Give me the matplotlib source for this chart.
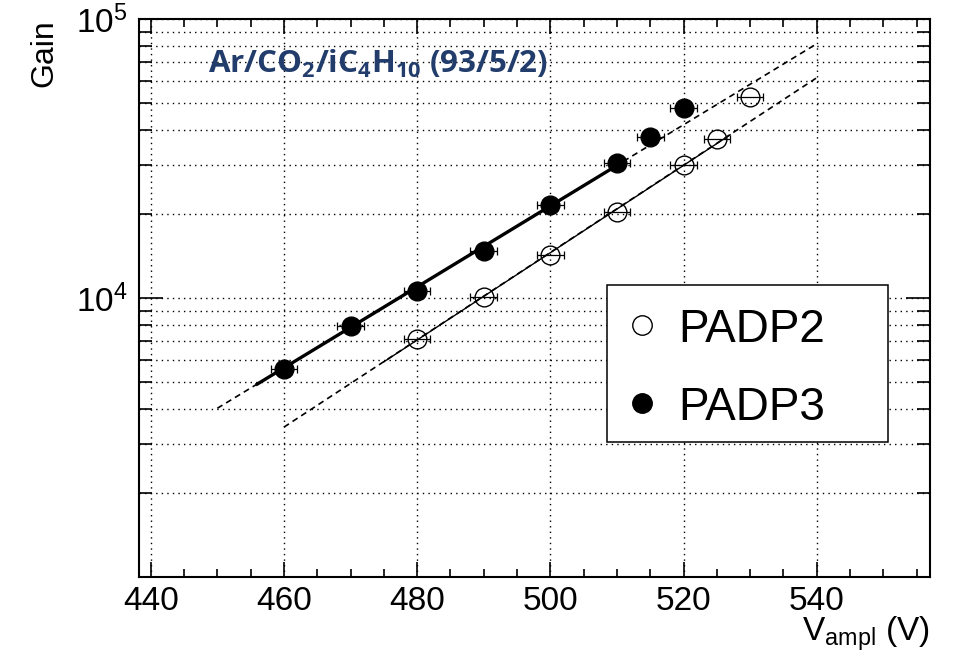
import numpy as np
import matplotlib
matplotlib.use("Agg")
import matplotlib.pyplot as plt
from matplotlib.patches import Rectangle
from matplotlib.ticker import FixedLocator, LogFormatterSciNotation, NullFormatter

plt.rcParams['font.family'] = ['Liberation Sans', 'DejaVu Sans']

# PADP2 (open markers)
v_padp2 = [480, 490, 500, 510, 520, 525, 530]
gain_padp2 = [7.1e3, 1.01e4, 1.43e4, 2.04e4, 3.01e4, 3.73e4, 5.26e4]
# PADP3 (filled markers)
v_padp3 = [460, 470, 480, 490, 500, 510, 515, 520]
gain_padp3 = [5.54e3, 7.96e3, 1.06e4, 1.48e4, 2.16e4, 3.05e4, 3.78e4, 4.81e4]
v_err = 2.0

fit2_full_v = [460, 540]
fit2_full_g = [3.44e3, 6.17e4]
fit2_range_v = [475, 527]
fit2_range_g = [5.90e3, 3.85e4]
fit3_full_v = [450, 540]
fit3_full_g = [4.02e3, 8.17e4]
fit3_range_v = [456, 510]
fit3_range_g = [4.91e3, 2.99e4]

fig = plt.figure(figsize=(9.56, 6.54), dpi=100)
ax = fig.add_axes([0.14508, 0.11820, 0.82772, 0.85229])

ax.set_yscale('log')
ax.set_xlim(438.2, 557.0)
ax.set_ylim(1e3, 1e5)

ax.plot(fit3_full_v, fit3_full_g, color='black', lw=1.2, ls=(0, (3.6, 2.6)), zorder=2)
ax.plot(fit2_full_v, fit2_full_g, color='black', lw=1.2, ls=(0, (3.6, 2.6)), zorder=2)
ax.plot(fit3_range_v, fit3_range_g, color='black', lw=2.4, zorder=3)
ax.plot(fit2_range_v, fit2_range_g, color='black', lw=1.0, zorder=3)

ax.errorbar(v_padp2, gain_padp2, xerr=v_err, fmt='none', ecolor='black',
            elinewidth=0.9, capsize=3, capthick=0.9, zorder=4)
ax.errorbar(v_padp3, gain_padp3, xerr=v_err, fmt='none', ecolor='black',
            elinewidth=0.9, capsize=3, capthick=0.9, zorder=4)
ax.plot(v_padp2, gain_padp2, 'o', ms=13.5, mfc='none', mec='black', mew=1.0, zorder=5)
ax.plot(v_padp3, gain_padp3, 'o', ms=13.5, mfc='black', mec='black', zorder=5)

# ticks
ax.set_xticks(np.arange(440, 541, 20))
ax.set_xticks(np.arange(440, 557, 5), minor=True)
ax.yaxis.set_major_locator(FixedLocator([1e3, 1e4, 1e5]))
ax.yaxis.set_minor_locator(FixedLocator([m * 10**e for e in (3, 4) for m in range(2, 10)]))
ax.yaxis.set_major_formatter(LogFormatterSciNotation())
ax.yaxis.set_minor_formatter(NullFormatter())
ax.tick_params(which='both', direction='in', top=True, right=True, labelsize=24, width=1.2)
ax.tick_params(axis='x', which='major', length=11, pad=7)
ax.tick_params(axis='x', which='minor', length=6)
ax.tick_params(axis='y', which='major', length=17, pad=8)
ax.tick_params(axis='y', which='minor', length=9.5)
for lab in ax.get_yticklabels():
    if lab.get_position()[1] == 1e3:
        lab.set_visible(False)

for s in ax.spines.values():
    s.set_linewidth(1.5)

ax.grid(True, axis='x', which='major', color='black', lw=1.0, ls=(0, (1, 3)))
ax.grid(True, axis='y', which='both', color='black', lw=1.0, ls=(0, (1, 3)))
ax.set_axisbelow(True)

ax.set_xlabel(r'V$_\mathdefault{ampl}$ (V)', fontsize=24, loc='right')
ax.xaxis.set_label_coords(1.0, -0.068)
ax.set_ylabel('Gain', fontsize=23, loc='top')
ax.yaxis.set_label_coords(-0.10, 1.0)

ax.text(0.0876, 0.9037, r'Ar/CO$_\mathdefault{2}$/iC$_\mathdefault{4}$H$_\mathdefault{10}$ (93/5/2)',
        transform=ax.transAxes, fontsize=22.5, fontfamily='Open Sans', fontweight='bold',
        color='#223d6c', va='baseline', ha='left')

# legend box
fig.patches.append(Rectangle((0.6353, 0.3246), 0.2939, 0.2396, transform=fig.transFigure,
                             facecolor='white', edgecolor='black', lw=1.1, zorder=10))
fig.add_artist(plt.Line2D([0.6712], [0.5031], transform=fig.transFigure, marker='o', ms=14,
                          mfc='none', mec='black', mew=1.0, ls='none', zorder=11))
fig.add_artist(plt.Line2D([0.6712], [0.3838], transform=fig.transFigure, marker='o', ms=14,
                          mfc='black', mec='black', ls='none', zorder=11))
fig.text(0.7092, 0.4775, 'PADP2', fontsize=33, va='baseline', ha='left', zorder=11)
fig.text(0.7092, 0.3578, 'PADP3', fontsize=33, va='baseline', ha='left', zorder=11)

fig.savefig('out.png', dpi=100, facecolor='white')
